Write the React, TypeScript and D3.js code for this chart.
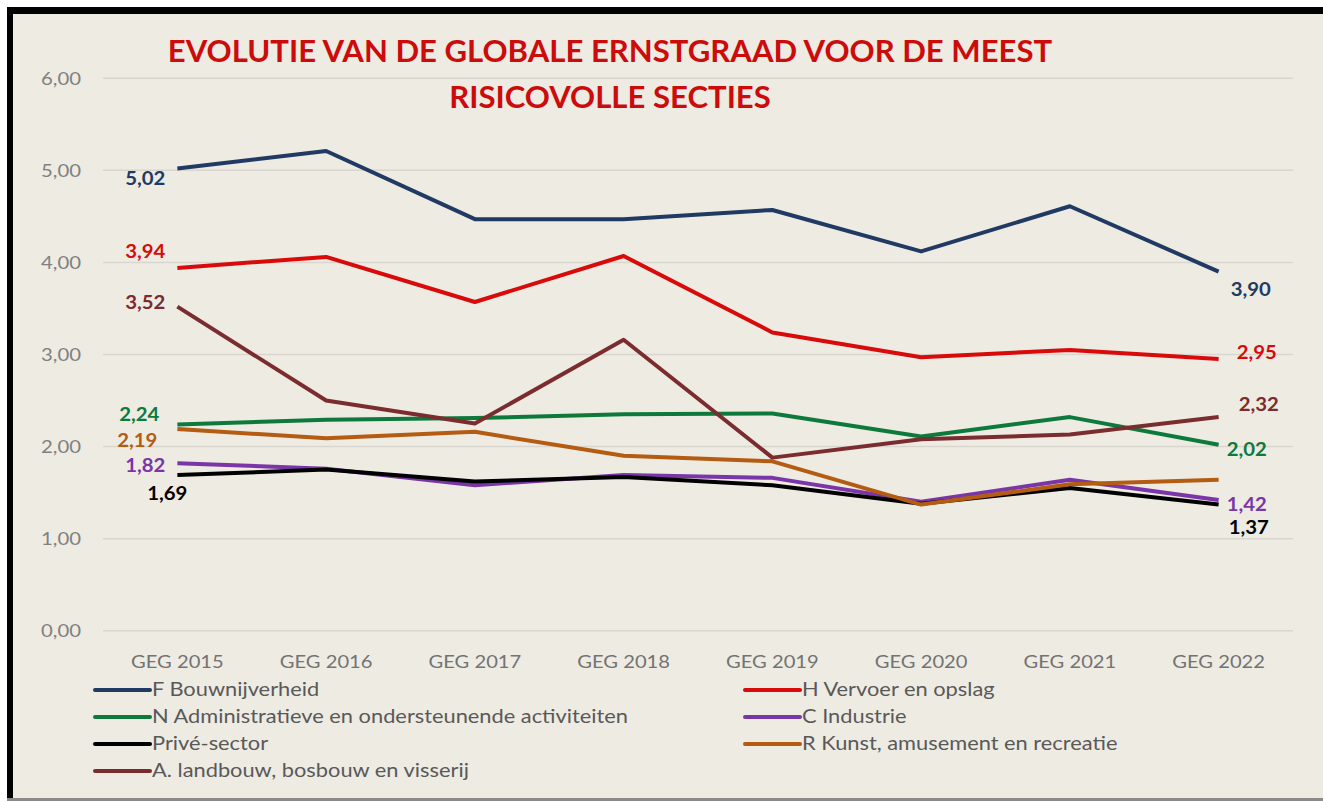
import React from "react";
import * as d3 from "d3";

const categories = ["GEG 2015", "GEG 2016", "GEG 2017", "GEG 2018", "GEG 2019", "GEG 2020", "GEG 2021", "GEG 2022"];
const yTicks = [0, 1, 2, 3, 4, 5, 6];

const seriesNames = [
  "F Bouwnijverheid",
  "H Vervoer en opslag",
  "N Administratieve en ondersteunende activiteiten",
  "C Industrie",
  "Privé-sector",
  "R Kunst, amusement en recreatie",
  "A. landbouw, bosbouw en visserij",
];

const bouwnijverheid = [5.02, 5.21, 4.47, 4.47, 4.57, 4.12, 4.61, 3.9];
const vervoer = [3.94, 4.06, 3.57, 4.07, 3.24, 2.97, 3.05, 2.95];
const administratieve = [2.24, 2.29, 2.31, 2.35, 2.36, 2.11, 2.32, 2.02];
const industrie = [1.82, 1.76, 1.58, 1.69, 1.66, 1.4, 1.64, 1.42];
const priveSector = [1.69, 1.75, 1.62, 1.67, 1.58, 1.38, 1.55, 1.37];
const kunst = [2.19, 2.09, 2.16, 1.9, 1.84, 1.37, 1.59, 1.64];
const landbouw = [3.52, 2.5, 2.25, 3.16, 1.88, 2.08, 2.13, 2.32];

const seriesValues = [bouwnijverheid, vervoer, administratieve, industrie, priveSector, kunst, landbouw];
const seriesColors = ["#203a63", "#d80a0a", "#0d7a3c", "#7a35a8", "#000000", "#b35c12", "#7a2c2e"];

// label placement (style): [dx, dy, anchor] for first and last point; null = no label
const firstLabelPos: ([number, number, string] | null)[] = [
  [-12, 10, "end"],
  [-12, -16, "end"],
  [-18, -10, "end"],
  [-12, 3, "end"],
  [10, 19, "end"],
  [-20, 12, "end"],
  [-12, -4, "end"],
];
const lastLabelPos: ([number, number, string] | null)[] = [
  [12, 18, "start"],
  [18, -6, "start"],
  [8, 5, "start"],
  [8, 5, "start"],
  [10, 23, "start"],
  null,
  [20, -12, "start"],
];

const legendOrder = [0, 1, 2, 3, 4, 5, 6];

const fmt = (v: number) => v.toFixed(2).replace(".", ",");

function SText(props: {
  x: number;
  y: number;
  sx: number;
  anchor?: string;
  fill: string;
  size: number;
  weight?: number;
  children: React.ReactNode;
}) {
  return (
    <g transform={`translate(${props.x},${props.y}) scale(${props.sx},1)`}>
      <text
        x={0}
        y={0}
        dy="0.35em"
        textAnchor={props.anchor || "start"}
        fill={props.fill}
        fontSize={props.size}
        fontWeight={props.weight || 400}
      >
        {props.children}
      </text>
    </g>
  );
}

export default function App() {
  const W = 1323;
  const H = 801;
  const x = d3.scalePoint<string>().domain(categories).range([103, 1293]).padding(0.5);
  const y = d3.scaleLinear().domain([0, 6]).range([630.7, 78.3]);
  const line = d3
    .line<number>()
    .x((_, i) => x(categories[i]) as number)
    .y((d) => y(d));

  const font = "Lato, 'Open Sans', sans-serif";

  return (
    <svg width={W} height={H} style={{ position: "absolute", left: 0, top: 0 }} fontFamily={font}>
      <rect x={0} y={0} width={W} height={H} fill="#ffffff" />
      <rect x={7} y={7} width={W - 7} height={H - 7} fill="#eeebe3" />
      <rect x={7} y={7} width={W - 7} height={7} fill="#000" />
      <rect x={7} y={7} width={6} height={H - 7} fill="#000" />
      <rect x={7} y={798} width={W - 7} height={3} fill="#8a8a8a" />

      <SText x={610} y={51} sx={1.02} anchor="middle" fill="#cc0b0b" size={30.5} weight={700}>
        EVOLUTIE VAN DE GLOBALE ERNSTGRAAD VOOR DE MEEST
      </SText>
      <SText x={610} y={97} sx={1.02} anchor="middle" fill="#cc0b0b" size={30.5} weight={700}>
        RISICOVOLLE SECTIES
      </SText>

      {yTicks.map((t) => (
        <g key={t}>
          <line x1={103} x2={1293} y1={y(t)} y2={y(t)} stroke="#d9d6cf" strokeWidth={1.5} />
          <SText x={81} y={y(t)} sx={1.13} anchor="end" fill="#808080" size={18}>
            {fmt(t)}
          </SText>
        </g>
      ))}

      {categories.map((c) => (
        <SText key={c} x={x(c) as number} y={662} sx={1.12} anchor="middle" fill="#737373" size={18}>
          {c}
        </SText>
      ))}

      {seriesValues.map((vals, si) => (
        <path
          key={si}
          d={line(vals) || ""}
          fill="none"
          stroke={seriesColors[si]}
          strokeWidth={4}
          strokeLinejoin="round"
        />
      ))}

      {seriesValues.map((vals, si) => {
        const f = firstLabelPos[si];
        const l = lastLabelPos[si];
        const n = vals.length - 1;
        return (
          <g key={si}>
            {f && (
              <SText
                x={(x(categories[0]) as number) + f[0]}
                y={y(vals[0]) + f[1]}
                sx={1.13}
                anchor={f[2]}
                fill={seriesColors[si]}
                size={18}
                weight={700}
              >
                {fmt(vals[0])}
              </SText>
            )}
            {l && (
              <SText
                x={(x(categories[n]) as number) + l[0]}
                y={y(vals[n]) + l[1]}
                sx={1.13}
                anchor={l[2]}
                fill={seriesColors[si]}
                size={18}
                weight={700}
              >
                {fmt(vals[n])}
              </SText>
            )}
          </g>
        );
      })}

      {legendOrder.map((si, k) => {
        const col = k % 2;
        const row = Math.floor(k / 2);
        const lx = col === 0 ? 95 : 745;
        const ly = 690 + row * 27;
        return (
          <g key={si}>
            <line x1={lx} x2={lx + 55} y1={ly} y2={ly} stroke={seriesColors[si]} strokeWidth={4} strokeLinecap="round" />
            <SText x={lx + 57} y={ly} sx={1.18} fill="#595959" size={18.5}>
              {seriesNames[si]}
            </SText>
          </g>
        );
      })}
    </svg>
  );
}
